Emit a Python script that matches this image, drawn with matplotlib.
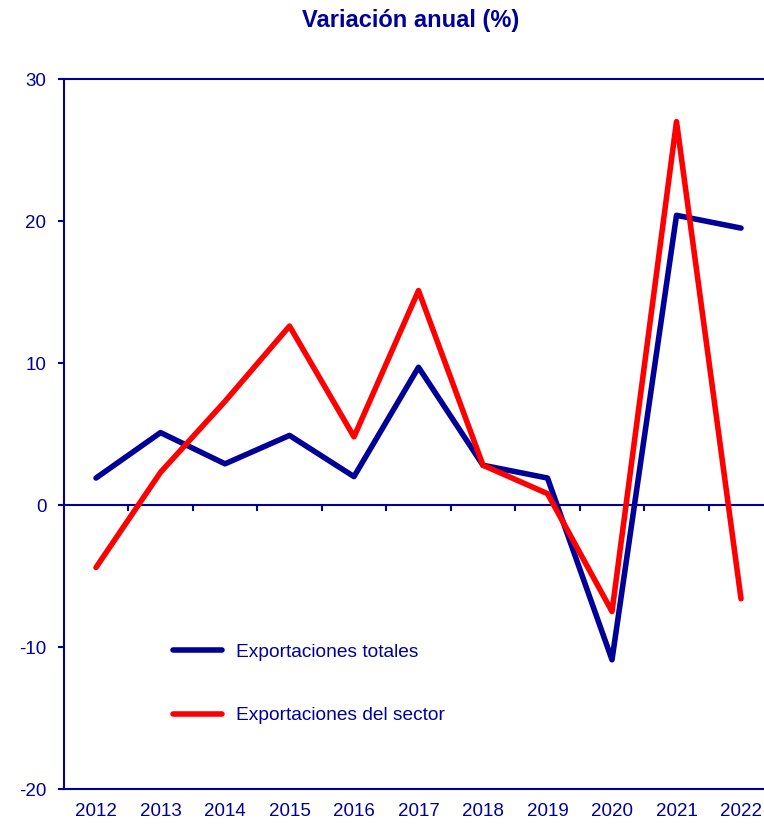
import numpy as np
import matplotlib
matplotlib.use("Agg")
import matplotlib.pyplot as plt

years = ["2012", "2013", "2014", "2015", "2016", "2017", "2018", "2019", "2020", "2021", "2022"]
totales = [1.9, 5.1, 2.9, 4.9, 2.0, 9.7, 2.8, 1.9, -10.9, 20.4, 19.5]
sector = [-4.4, 2.3, 7.3, 12.6, 4.8, 15.1, 2.8, 0.8, -7.5, 27.0, -6.6]

navy = "#000099"
red = "#ff0000"

plt.rcParams["font.family"] = ["Liberation Sans", "DejaVu Sans"]
plt.rcParams["axes.unicode_minus"] = False

fig = plt.figure(figsize=(7.64, 8.26), dpi=100)
# axes spans past the right edge, like the original
left = 63.75 / 764
ax = fig.add_axes([left, 37 / 826, 1 - left, 710 / 826])

x = np.arange(len(years))
ax.plot(x, totales, color=navy, lw=4, solid_capstyle="round", solid_joinstyle="round",
        label="Exportaciones totales", zorder=3)
ax.plot(x, sector, color=red, lw=4, solid_capstyle="round", solid_joinstyle="round",
        label="Exportaciones del sector", zorder=3)

ax.set_xlim(-0.5, -0.5 + 700.25 / 64.5)
ax.set_ylim(-20, 30)

# zero line with category tick marks
ax.axhline(0, color=navy, lw=1.5, zorder=2)
ax.vlines(x[:-1] + 0.5, -0.42, 0, color=navy, lw=1.5, zorder=2)

ax.set_yticks([-20, -10, 0, 10, 20, 30])
ax.set_xticks(x)
ax.set_xticklabels(years)
ax.tick_params(axis="x", length=0, pad=10, labelsize=13.5, labelcolor=navy)
ax.tick_params(axis="y", length=4, width=1.5, color=navy, pad=8.5, labelsize=13.5, labelcolor=navy)

for s in ["left", "top", "bottom"]:
    ax.spines[s].set_color(navy)
    ax.spines[s].set_linewidth(1.5)
ax.spines["right"].set_visible(False)

leg = ax.legend(loc="center left", bbox_to_anchor=((173 - 63.75) / 700.25, 0.148),
                frameon=False, fontsize=13.8, handlelength=2.55, handletextpad=0.72,
                labelspacing=2.4, borderpad=0, borderaxespad=0)
for t in leg.get_texts():
    t.set_color(navy)

fig.text(410.5 / 764, 1 - 21 / 826, "Variación anual (%)", ha="center", va="center",
         fontsize=17, fontweight="bold", color=navy)

fig.savefig("out.png", dpi=100)
